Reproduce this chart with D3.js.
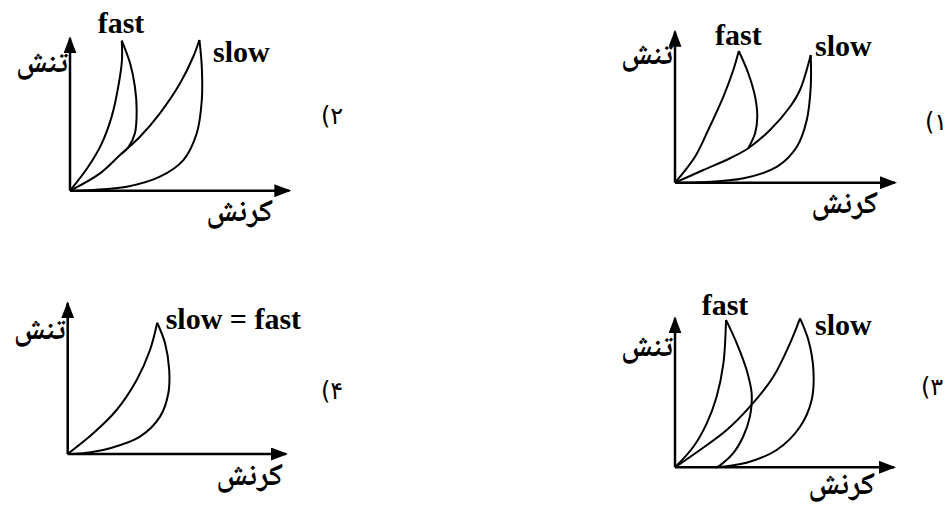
<!DOCTYPE html>
<html>
<head>
<meta charset="utf-8">
<script src="https://cdn.jsdelivr.net/npm/d3@7"></script>
<style>
  html, body { margin: 0; padding: 0; background: #fff; }
  svg { display: block; }
  .tag { font-family: "Liberation Serif", "Times New Roman", serif; font-weight: bold; font-size: 30px; }
  .fa { font-family: "Noto Naskh Arabic", "DejaVu Sans", sans-serif; font-weight: bold; font-size: 31px; }
  .num { font-family: "DejaVu Sans", sans-serif; font-size: 24px; direction: ltr; unicode-bidi: bidi-override; }
</style>
</head>
<body>
<svg id="chart" width="951" height="507"></svg>
<script>
// ---- Data (strain %, stress %); 100 = axis arrow tip ----
// Panel 1 (top right)
const p1FastLoad   = [[0,0],[9.1,17.2],[15.1,34.9],[22.0,57.0],[26.5,74.6],[29.0,87.2]];
const p1FastUnload = [[29.0,87.2],[33.3,72.5],[36.4,57.0],[37.4,43.7],[36.4,32.7],[33.3,22.8]];
const p1SlowLoad   = [[0,0],[12.9,8.4],[25.0,16.2],[33.3,22.8],[43.2,34.9],[52.3,50.3],[56.8,61.4],[61.7,84.6]];
const p1SlowUnload = [[61.7,84.6],[61.7,63.6],[59.9,41.5],[55.4,23.8],[46.4,10.6],[31.2,2.9],[11.4,0.3],[0,0]];
// Panel 2 (top left)
const p2FastLoad   = [[0,0],[8.3,15.7],[14.5,31.1],[19.0,48.6],[22.0,68.2],[23.7,85.8],[23.6,98.5]];
const p2FastUnload = [[23.6,98.5],[27.4,83.6],[29.6,68.2],[30.4,53.0],[29.6,37.7],[26.6,28.5],[22.8,23.4]];
const p2SlowLoad   = [[0,0],[13.7,11.4],[22.8,23.4],[31.9,35.4],[41.0,50.8],[50.2,70.5],[56.2,87.9],[59.0,98.9]];
const p2SlowUnload = [[59.0,98.9],[60.1,81.4],[60.1,59.5],[57.8,37.7],[51.7,20.1],[41.0,9.2],[25.9,2.6],[10.6,0.5],[0,0]];
// Panel 3 (bottom right)
const p3FastLoad   = [[0,0],[8.4,13.8],[14.5,29.5],[19.0,47.4],[22.1,69.8],[23.3,98.9]];
const p3FastUnload = [[23.3,98.9],[28.2,83.2],[32.7,65.3],[35.0,49.6],[34.2,34.0],[31.1,20.5],[26.5,9.4],[19.6,0.4],[18.3,0]];
const p3SlowLoad   = [[0,0],[11.4,11.6],[23.6,25.0],[34.2,40.7],[44.9,60.8],[52.5,83.2],[57.1,100]];
const p3SlowUnload = [[57.1,100],[60.9,85.4],[63.2,65.3],[62.4,45.2],[57.1,27.2],[46.4,11.6],[32.6,3.1],[18.3,0]];
// Panel 4 (bottom left)
const p4Load   = [[0,0],[11.7,13.7],[22.4,29.2],[31.6,49.1],[37.7,69.0],[41.0,87.1]];
const p4Unload = [[41.0,87.1],[44.6,73.5],[46.5,55.7],[46.1,40.3],[42.3,24.8],[33.1,11.5],[19.4,3.8],[7.1,0.5],[0,0]];

// ---- Text ----
const yLabel = "تنش";
const xLabel = "کرنش";
const panelNumbers = ["(۱", "(۲", "(۳", "(۴"];
const curveTags = ["fast", "slow", "slow = fast"];

// ---- Layout ----
const svg = d3.select("#chart");
const defs = svg.append("defs");
defs.append("marker")
  .attr("id", "arrow")
  .attr("viewBox", "0 0 17 13")
  .attr("refX", 15).attr("refY", 6.5)
  .attr("markerUnits", "userSpaceOnUse")
  .attr("markerWidth", 17).attr("markerHeight", 13)
  .attr("orient", "auto")
  .append("path").attr("d", "M0,0 L17,6.5 L0,13 Z").attr("fill", "#000");

function panel(cfg) {
  const x = d3.scaleLinear().domain([0, 100]).range([cfg.ox, cfg.xTip]);
  const y = d3.scaleLinear().domain([0, 100]).range([cfg.oy, cfg.yTip]);
  const g = svg.append("g");
  const line = d3.line().x(d => x(d[0])).y(d => y(d[1])).curve(d3.curveCatmullRom.alpha(0.5));
  // axes
  g.append("line").attr("x1", x(0)).attr("y1", y(0)).attr("x2", x(100)).attr("y2", y(0))
    .attr("stroke", "#000").attr("stroke-width", 2.5).attr("marker-end", "url(#arrow)");
  g.append("line").attr("x1", x(0)).attr("y1", y(0)).attr("x2", x(0)).attr("y2", y(100))
    .attr("stroke", "#000").attr("stroke-width", 2.5).attr("marker-end", "url(#arrow)");
  // curves
  cfg.curves.forEach(c => {
    g.append("path").attr("d", line(c)).attr("fill", "none")
      .attr("stroke", "#000").attr("stroke-width", 2).attr("stroke-linejoin", "round");
  });
  // tags
  cfg.tags.forEach(t => {
    g.append("text").attr("class", "tag").attr("x", t.x).attr("y", t.y).text(t.text).attr("fill", "#000");
  });
  // axis labels
  g.append("text").attr("class", "fa").attr("x", cfg.ox - 2).attr("y", cfg.yl).text(yLabel)
    .attr("text-anchor", "end").attr("fill", "#000");
  g.append("text").attr("class", "fa").attr("x", cfg.xlx).attr("y", cfg.xly).text(xLabel)
    .attr("text-anchor", "end").attr("fill", "#000");
  g.append("text").attr("class", "num").attr("x", cfg.nx).attr("y", cfg.ny).text(cfg.num).attr("fill", "#000");
}

panel({ ox: 675, oy: 182.7, xTip: 895, yTip: 31.7,
  curves: [p1FastLoad, p1FastUnload, p1SlowLoad, p1SlowUnload],
  tags: [{x: 715, y: 45, text: curveTags[0]}, {x: 815, y: 56, text: curveTags[1]}],
  yl: 64, xlx: 878, xly: 213, nx: 925, ny: 130, num: panelNumbers[0] });

panel({ ox: 70, oy: 190.7, xTip: 289.3, yTip: 38.3,
  curves: [p2FastLoad, p2FastUnload, p2SlowLoad, p2SlowUnload],
  tags: [{x: 97.7, y: 33, text: curveTags[0]}, {x: 213, y: 62, text: curveTags[1]}],
  yl: 72, xlx: 273, xly: 221, nx: 321, ny: 124, num: panelNumbers[1] });

panel({ ox: 675, oy: 467.3, xTip: 894, yTip: 318.3,
  curves: [p3FastLoad, p3FastUnload, p3SlowLoad, p3SlowUnload],
  tags: [{x: 701.7, y: 315, text: curveTags[0]}, {x: 815, y: 335, text: curveTags[1]}],
  yl: 356, xlx: 875, xly: 494, nx: 921, ny: 395, num: panelNumbers[2] });

panel({ ox: 67.7, oy: 454, xTip: 286, yTip: 303.3,
  curves: [p4Load, p4Unload],
  tags: [{x: 165.7, y: 329, text: curveTags[2]}],
  yl: 339, xlx: 283, xly: 485, nx: 321, ny: 399, num: panelNumbers[3] });
</script>
</body>
</html>
